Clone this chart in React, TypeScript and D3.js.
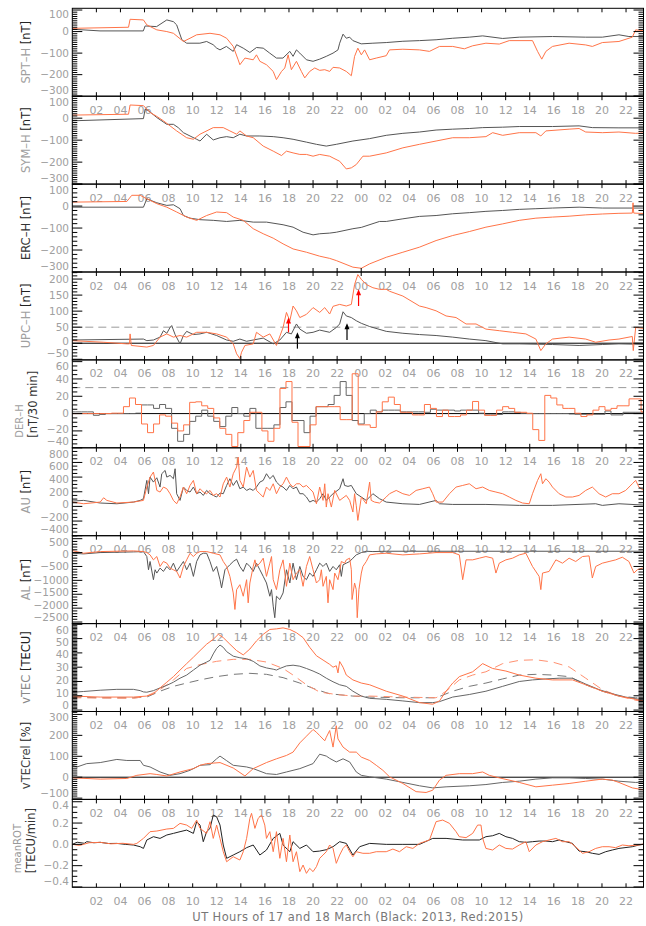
import React from "react";
import * as d3 from "d3";

type Pt = [number, number];

// hours of 17 and 18 March, labels every 2 h
const hourTicks = d3.range(2, 47, 2);
const hourLabel = (h: number) => String(h % 24).padStart(2, "0");

// ---------- SPT-H [nT] ----------
const sptH2013: Pt[] = [[0,11],[2.3,3],[5.9,3],[6.05,26],[7.0,23],[7.85,54],[8.4,46],[8.67,31],[9.1,-38],[9.5,-54],[10.6,-54],[11.16,-46],[11.7,-61],[12.0,-77],[12.27,-85],[12.8,-69],[13.37,-92],[13.65,-61],[14.2,-77],[14.75,-97],[15.3,-74],[15.86,-77],[16.4,-100],[16.96,-123],[17.5,-123],[18.07,-92],[18.34,-115],[18.62,-85],[18.9,-100],[19.45,-131],[20.0,-138],[20.55,-128],[21.1,-115],[21.66,-100],[22.07,-85],[22.21,-54],[22.49,-12],[22.76,-31],[23.04,-26],[23.31,-42],[24.0,-57],[24.97,-54],[26.08,-51],[27.46,-45],[28.84,-42],[30.22,-38],[31.6,-31],[32.98,-26],[34.09,-20],[35.75,-32],[37.13,-26],[39.89,-23],[42.65,-26],[44.03,-26],[45.41,-15],[46.24,-23],[48,-23]];
const sptH2015: Pt[] = [[0,15],[4.67,20],[4.8,57],[5.91,54],[6.19,31],[7.02,8],[7.85,0],[8.4,-8],[9.23,-46],[9.78,-31],[10.33,-15],[11.44,-8],[12.27,-15],[12.82,-31],[13.37,-69],[13.78,-131],[13.92,-154],[14.34,-123],[15.03,-131],[15.3,-108],[15.58,-138],[16.13,-154],[16.69,-185],[16.96,-223],[17.38,-185],[17.65,-169],[17.93,-108],[18.2,-177],[18.62,-138],[19.03,-185],[19.31,-215],[19.72,-185],[20.14,-169],[20.55,-180],[20.97,-177],[21.38,-185],[21.66,-166],[22.21,-169],[22.76,-185],[23.18,-205],[23.45,-115],[23.72,-77],[24.01,-108],[24.28,-85],[24.7,-131],[25.25,-123],[26.08,-112],[26.35,-85],[27.46,-82],[28.84,-85],[29.67,-92],[30.5,-69],[31.6,-69],[32.57,-80],[33.26,-66],[34.36,-54],[35.47,-58],[36.3,-42],[38.23,-42],[38.65,-92],[39.0,-128],[39.34,-92],[39.89,-69],[41.27,-54],[42.65,-62],[43.2,-69],[44.03,-51],[45.41,-46],[46.52,-26],[46.8,8],[48,0]];

// ---------- SYM-H [nT] ----------
const symH2013: Pt[] = [[0,-12],[5.91,-2],[6.05,41],[6.33,34],[7.02,3],[7.85,-28],[8.4,-28],[8.8,-43],[9.23,-66],[9.78,-81],[10.33,-96],[10.61,-104],[11.16,-73],[11.71,-99],[12.27,-89],[12.82,-84],[13.37,-89],[13.92,-73],[14.48,-81],[15.58,-81],[16.69,-84],[17.51,-89],[18.34,-96],[19.45,-109],[20.28,-119],[21.1,-127],[21.93,-119],[23.31,-104],[24.7,-93],[26.08,-78],[27.46,-69],[28.84,-63],[30.22,-54],[31.6,-50],[32.98,-47],[34.09,-43],[35.75,-41],[37.13,-38],[39.89,-38],[42.1,-35],[43.2,-43],[45.41,-44],[48,-44]];
const symH2015: Pt[] = [[0,14],[4.67,18],[4.8,60],[5.91,57],[6.46,26],[7.02,8],[7.57,-12],[8.12,-35],[8.67,-58],[9.5,-89],[10.06,-96],[10.61,-73],[11.71,-43],[12.54,-43],[13.09,-58],[13.65,-73],[13.92,-58],[14.48,-81],[15.03,-89],[15.86,-127],[16.69,-150],[17.38,-170],[17.79,-150],[18.34,-158],[18.9,-165],[19.45,-165],[20.0,-173],[20.55,-165],[21.38,-173],[21.66,-181],[22.21,-196],[22.76,-231],[23.18,-226],[23.59,-211],[24.14,-173],[24.7,-173],[26.08,-158],[27.46,-135],[28.84,-119],[30.22,-104],[31.6,-89],[32.98,-89],[34.36,-84],[34.92,-66],[35.75,-78],[37.13,-66],[38.51,-66],[38.92,-81],[39.34,-58],[41.27,-50],[42.1,-47],[42.65,-63],[44.03,-66],[45.41,-63],[46.8,-69],[48,-66]];

// ---------- ERC-H [nT] ----------
const ercH2013: Pt[] = [[0,-5],[5.91,-5],[6.19,33],[7.02,15],[7.85,3],[8.4,6],[8.95,-12],[9.23,-43],[9.78,-55],[10.61,-62],[11.71,-65],[12.82,-70],[13.92,-65],[15.03,-73],[16.13,-73],[17.51,-85],[18.34,-96],[19.17,-119],[20.0,-131],[20.55,-126],[21.38,-123],[21.93,-119],[23.31,-103],[24.01,-97],[25.52,-70],[26.08,-70],[27.46,-58],[28.84,-47],[30.22,-43],[31.6,-35],[32.98,-30],[34.36,-24],[35.75,-20],[37.13,-15],[38.51,-12],[39.89,-9],[42.1,-5],[44.03,-9],[48,-9]];
const ercH2015: Pt[] = [[0,18],[4.53,21],[4.94,49],[5.64,49],[6.19,33],[7.02,11],[7.85,-5],[8.67,-27],[9.5,-50],[10.33,-65],[11.16,-43],[11.99,-27],[12.82,-30],[13.37,-50],[14.2,-65],[15.03,-103],[15.86,-126],[16.69,-146],[17.51,-172],[18.34,-195],[19.45,-210],[20.55,-228],[21.38,-238],[21.93,-248],[23.31,-278],[24.01,-283],[24.7,-263],[26.08,-233],[27.46,-210],[28.84,-187],[30.22,-157],[31.6,-134],[32.98,-116],[34.36,-96],[35.75,-81],[37.13,-65],[38.51,-55],[39.89,-50],[41.27,-46],[42.65,-40],[44.03,-36],[45.41,-33],[46.52,-32],[46.58,15],[46.64,-32],[48,-35]];

// ---------- UPC-H [nT] ----------
const upcH2013: Pt[] = [[0,10],[5.91,13],[6.19,8],[6.74,10],[7.29,19],[7.57,39],[7.85,31],[8.12,49],[8.26,55],[8.54,27],[8.95,-2],[9.23,24],[9.5,37],[10.06,27],[10.61,29],[11.16,34],[11.99,24],[12.82,10],[13.37,6],[13.92,13],[14.48,6],[15.03,10],[15.86,16],[16.69,-2],[17.24,10],[17.79,34],[18.2,29],[18.62,60],[18.9,44],[19.45,31],[20.0,34],[20.55,41],[21.38,34],[21.93,49],[22.21,60],[22.49,98],[22.76,85],[23.18,80],[23.59,70],[24.01,62],[24.7,52],[26.08,37],[27.46,31],[28.84,27],[30.22,24],[31.6,19],[32.98,13],[34.36,8],[35.75,-2],[37.13,-2],[39.89,-4],[42.1,-7],[44.03,-4],[45.41,-2],[48,-4]];
const upcH2015: Pt[] = [[0,8],[2.6,3],[4.53,-2],[4.75,-2],[4.8,29],[4.9,-7],[6.19,-12],[6.74,-7],[7.29,19],[7.85,29],[8.4,19],[8.95,24],[9.5,19],[10.33,34],[11.16,34],[11.99,29],[12.82,19],[13.37,-2],[13.65,-33],[13.92,-48],[14.06,-28],[14.34,-7],[15.03,-2],[15.3,34],[15.86,19],[16.41,29],[16.96,-7],[17.51,49],[17.79,96],[18.07,70],[18.34,116],[18.62,101],[18.9,80],[19.45,90],[20.0,111],[20.55,96],[20.97,111],[21.38,91],[21.66,115],[22.21,121],[22.76,116],[23.18,121],[23.45,183],[23.72,214],[24.01,199],[24.42,183],[24.97,173],[25.52,168],[26.08,168],[26.35,162],[27.46,147],[28.84,116],[29.39,111],[30.22,101],[31.05,85],[31.88,80],[32.71,60],[33.54,60],[34.36,44],[35.47,39],[36.57,34],[37.68,29],[38.51,13],[38.92,-23],[39.34,-2],[39.89,13],[41.27,19],[42.65,13],[43.48,3],[44.59,10],[45.41,13],[46.52,21],[46.6,-23],[46.8,49],[48,44]];
// onset arrows: [hour, from] -> [hour, to]
const upcArrows2013: Pt[][] = [[[18.7, -17], [18.7, 34]], [[22.82, 10], [22.82, 62]]];
const upcArrows2015: Pt[][] = [[[17.96, 34], [17.96, 80]], [[23.78, 116], [23.78, 168]]];

// ---------- DER-H [nT/30 min], one value per half hour ----------
const derH2013: number[] = [
  2,2, 2,2, -2,-1, 0,0, 0,0, 0,0.5,
  10,10, 6,10.5, 6,-17, -32,-24, -9,-3, 4,-3,
  -9,-15, -3,7, 0,-3, 6,-17, -17,-17, -13,7,
  13.6,-8, -8,-22, -3,8, 8,10.5, 21,37, 21,-8,
  -12,0, 4,2, 4,4, 4,2, 2,2, 2,1.5,
  5,4, 4,4, 3,4, 4,4, 0.5,-1.5, -1.5,-1,
  2,2, 1.5,0.4, 0,0, 0,0, 0,0, 0,-0.4,
  -0.8,-0.8, -0.8,-0.8, -0.8,3, -1.5,-1.5, 1.5,1.5, 1.5,1.5,
];
const derH2015: number[] = [
  0,0, 0,0, 0,0, 0,0.5, 0.5,8, 18,10.5,
  -12,-22, -12,-1.5, -3,-11, -20,-13, 13,13.6, 9,6,
  -5,-17, -24,-38, -22,-8, 1.5,1.5, -20,-32, -17,29,
  37,-10, -38,-38, -13,8, 8,8, 8,-7, -7,46,
  -13,-13, -16,2, 13.6,19, 10.5,1.5, 1.5,-1.5, -1.5,10.5,
  6,-3.4, 4,-3.4, -3.4,-1.5, 4,14, 4,-2, -2,4,
  8,6, 1.5,1.5, 0.4,-18.5, -31,21, 18,10, 6,6,
  0.4,-3.4, -1.5,4, 8,4, 6,9, 9,17, 17,2,
];

// ---------- AU [nT] ----------
const au2013: Pt[] = [[0,73],[0.94,82],[2.32,46],[3.7,36],[5.08,59],[5.64,82],[5.91,105],[6.19,355],[6.33,173],[6.46,400],[6.74,332],[7.02,391],[7.29,264],[7.43,446],[7.71,491],[7.85,400],[8.12,423],[8.4,378],[8.54,514],[8.67,173],[8.95,82],[9.23,264],[9.5,218],[9.78,196],[10.06,264],[10.33,173],[10.61,196],[10.88,150],[11.16,218],[11.44,173],[11.71,150],[11.99,128],[12.27,182],[12.54,173],[12.82,286],[13.09,378],[13.37,286],[13.65,355],[13.92,241],[14.2,264],[14.48,218],[14.75,241],[15.03,218],[15.3,264],[15.58,332],[15.86,355],[16.13,446],[16.41,378],[16.69,423],[16.96,332],[17.24,286],[17.51,264],[17.79,218],[18.07,286],[18.34,241],[18.62,264],[18.9,173],[19.17,173],[19.45,128],[19.72,59],[20.0,82],[20.28,59],[20.55,105],[20.83,173],[21.1,82],[21.38,128],[21.66,173],[22.21,241],[22.49,378],[22.62,286],[22.9,273],[23.18,286],[23.59,173],[24.01,128],[24.42,82],[24.97,173],[25.52,105],[26.08,59],[27.46,36],[28.84,27],[30.22,82],[30.5,36],[31.6,27],[34.36,27],[37.13,14],[39.89,14],[43.48,36],[44.03,14],[45.41,36],[48,14]];
const au2015: Pt[] = [[0,59],[0.94,36],[2.32,59],[2.6,118],[2.87,82],[3.7,46],[5.08,59],[5.91,82],[6.19,264],[6.46,400],[6.74,469],[6.88,355],[7.02,218],[7.29,196],[7.57,264],[7.85,241],[8.12,173],[8.4,82],[8.67,36],[8.95,128],[9.23,264],[9.5,173],[9.78,286],[10.06,355],[10.33,173],[10.61,241],[10.88,196],[11.16,173],[11.44,218],[11.71,150],[11.99,173],[12.27,128],[12.54,309],[12.82,400],[13.09,264],[13.37,446],[13.65,537],[13.78,673],[13.92,355],[14.2,264],[14.48,537],[14.75,400],[15.03,491],[15.3,218],[15.58,173],[15.86,128],[16.13,264],[16.41,218],[16.69,309],[16.96,173],[17.24,264],[17.51,309],[17.79,400],[18.07,309],[18.34,264],[18.62,309],[18.9,309],[19.17,264],[19.45,286],[19.72,241],[20.0,196],[20.28,36],[20.55,264],[20.83,82],[20.97,309],[21.1,-9],[21.24,173],[21.52,-9],[21.8,218],[22.21,82],[22.76,150],[23.04,82],[23.31,-77],[23.45,173],[23.59,9],[23.72,-191],[24.01,128],[24.42,36],[24.7,332],[24.83,82],[25.11,59],[25.52,46],[26.08,128],[26.35,173],[26.91,218],[27.46,173],[28.01,150],[28.56,218],[29.12,241],[29.67,264],[29.94,173],[30.22,59],[30.77,59],[31.33,173],[31.88,264],[32.43,286],[32.98,309],[33.54,241],[34.09,264],[34.64,218],[35.19,196],[35.75,173],[36.3,128],[36.85,82],[37.4,46],[37.96,36],[38.23,173],[38.65,355],[38.92,446],[39.06,309],[39.34,378],[39.61,332],[39.89,264],[40.44,173],[41.0,128],[41.55,128],[42.1,150],[42.65,218],[43.2,264],[43.76,173],[44.31,128],[44.86,173],[45.41,173],[45.97,218],[46.52,309],[46.8,355],[47.07,264],[48,150]];

// ---------- AL [nT] ----------
const al2013: Pt[] = [[0,-24],[0.94,-48],[2.32,0],[5.08,24],[5.91,36],[6.19,-143],[6.33,-619],[6.46,-321],[6.74,-976],[6.88,-619],[7.02,-738],[7.29,-559],[7.57,-678],[7.85,-500],[8.12,-619],[8.4,-381],[8.67,-678],[8.95,-500],[9.23,-321],[9.5,-619],[9.78,-381],[10.06,-857],[10.33,-321],[10.61,-83],[10.88,-24],[11.16,-24],[11.44,-321],[11.71,-678],[11.99,-500],[12.27,-976],[12.4,-1273],[12.68,-619],[13.09,-440],[13.37,-321],[13.65,-238],[13.92,-500],[14.2,-678],[14.48,-381],[14.75,-500],[15.03,-678],[15.3,-381],[15.58,-619],[15.86,-857],[16.13,-1095],[16.41,-1571],[16.55,-1333],[16.69,-1928],[16.82,-2344],[16.96,-1571],[17.24,-1690],[17.51,-1452],[17.79,-619],[18.07,-1095],[18.34,-381],[18.62,-976],[18.9,-500],[19.17,-857],[19.45,-976],[19.72,-738],[20.0,-857],[20.28,-619],[20.55,-381],[20.83,-500],[21.1,-381],[21.38,-678],[21.66,-500],[21.93,-619],[22.21,-440],[22.35,-857],[22.49,-440],[22.76,-381],[23.04,-321],[23.31,-202],[23.59,-83],[24.01,0],[24.42,48],[24.97,36],[26.08,48],[48,48]];
const al2015: Pt[] = [[0,71],[0.94,-24],[2.32,36],[5.08,60],[5.91,36],[6.19,0],[6.46,-83],[6.74,-262],[7.02,-143],[7.29,-500],[7.57,-321],[7.85,-381],[8.12,-559],[8.4,-619],[8.67,-678],[8.95,-916],[9.23,-500],[9.5,-262],[9.78,-24],[10.06,-143],[10.33,-24],[10.61,36],[11.16,36],[11.71,-24],[12.27,-83],[12.54,-321],[12.82,-500],[13.09,-857],[13.37,-1452],[13.51,-2047],[13.65,-1333],[13.92,-1155],[14.2,-1571],[14.48,-976],[14.61,-1809],[14.75,-1095],[15.03,-500],[15.17,-262],[15.3,-500],[15.58,-381],[15.86,-202],[16.13,-857],[16.41,-381],[16.55,-143],[16.69,-976],[16.96,-1333],[17.24,-619],[17.51,-262],[17.79,-1214],[18.07,-381],[18.34,-976],[18.62,-738],[18.9,-619],[19.17,-1214],[19.45,-500],[19.72,-143],[20.0,-619],[20.28,-1095],[20.55,-976],[20.69,-619],[20.83,-1214],[21.1,-857],[21.24,-1809],[21.38,-976],[21.66,-1333],[21.8,-738],[22.07,-976],[22.35,-321],[22.62,-381],[22.76,-262],[23.04,-202],[23.18,-619],[23.24,-1690],[23.45,-1095],[23.59,-1333],[23.67,-2344],[23.81,-1333],[24.01,-738],[24.14,-500],[24.42,-321],[24.7,-83],[25.25,-48],[26.08,-24],[27.46,-83],[28.84,-48],[30.22,0],[31.6,0],[32.15,-83],[32.43,-976],[32.71,-262],[33.26,-262],[33.81,-202],[34.36,-143],[34.92,-202],[35.19,-738],[35.47,-381],[36.02,-262],[36.57,-202],[37.13,-83],[37.68,-24],[38.23,-500],[38.78,-857],[38.92,-1333],[39.06,-738],[39.61,-678],[40.17,-262],[40.72,-381],[41.27,-202],[41.82,-321],[42.38,-143],[42.93,-119],[43.2,-916],[43.48,-500],[44.03,-381],[44.59,-321],[45.14,-262],[45.69,-167],[46.24,-321],[46.66,-738],[46.93,-619],[47.35,-559],[48,-440]];

// ---------- vTEC [TECU] (solid: observed, dashed: median) ----------
const vtec2013: Pt[] = [[0,12.5],[0.94,13.0],[2.32,13.9],[3.7,14.5],[5.08,14.5],[5.64,13.6],[5.91,12.7],[6.19,12.5],[6.74,13.6],[7.29,15.5],[7.85,17.3],[8.4,19.5],[8.95,22.3],[9.5,24.5],[10.06,28],[10.61,31.4],[11.16,33.6],[11.44,34.8],[11.71,39.3],[11.99,43.2],[12.27,45.5],[12.54,43.9],[12.82,40.9],[13.37,37.7],[13.92,36.6],[14.48,35.9],[15.03,34.1],[15.58,30.9],[16.13,29.5],[16.69,28.6],[16.96,28],[17.24,29.1],[17.79,30.9],[18.34,31.4],[18.9,30.7],[19.45,29.1],[20.0,27.3],[20.55,25.2],[21.1,22.3],[21.66,19.8],[22.21,17.7],[22.76,16.6],[23.31,13.2],[24.01,9.8],[24.7,8.2],[26.08,7.5],[27.46,6.4],[28.84,5.2],[29.94,5.2],[30.5,5.9],[31.6,9.1],[32.98,10.9],[34.36,13.2],[35.75,16.6],[37.13,20],[38.23,21.1],[39.34,21.8],[40.44,22.3],[41.55,22.3],[42.65,18.2],[43.76,14.3],[44.86,11.4],[45.97,9.1],[47.07,7.5],[48,6.8]];
const vtecMed2013: Pt[] = [[0,9.1],[2.32,8.6],[5.08,8.6],[6.19,9.1],[7.29,13.2],[8.4,16.6],[9.5,18.9],[10.61,21.1],[11.99,23.4],[13.37,25],[14.75,25.7],[16.13,25],[17.51,22.7],[18.9,18.9],[20.28,14.3],[21.38,11.4],[23.31,9.8],[24.7,9.1],[27.46,8.6],[30.22,8.6],[31.6,13.2],[32.98,16.6],[34.36,18.9],[35.75,21.8],[37.13,24.5],[38.51,25],[39.89,24.5],[41.27,23.4],[42.65,17.7],[44.03,13.2],[45.41,9.8],[46.8,8.6],[48,8.2]];
const vtec2015: Pt[] = [[0,9.8],[2.32,9.1],[5.08,9.1],[6.19,9.8],[6.74,11.4],[7.29,15.5],[7.85,19.5],[8.4,23.4],[8.95,28],[9.5,32.5],[10.06,37],[10.61,41.6],[11.16,46.1],[11.71,49.5],[12.13,53],[12.54,50.7],[13.09,46.1],[13.65,41.6],[14.2,38.6],[14.75,42.7],[15.3,48.4],[15.86,53],[16.41,56.4],[16.96,56.8],[17.51,57.5],[18.07,56.4],[18.62,54.1],[19.17,50.7],[19.72,43.9],[20.28,38],[20.83,35],[21.38,32],[21.66,30],[21.93,31],[22.07,26],[22.21,34],[22.49,30],[22.76,24.5],[23.31,21.1],[24.01,18.9],[24.7,17.7],[26.08,13.2],[27.46,9.8],[28.84,5.2],[29.94,4.1],[30.5,6.4],[31.05,13.2],[31.6,18.9],[32.15,23.4],[33.26,26.8],[34.09,32.5],[34.92,29.1],[36.02,27.3],[37.13,24.5],[38.51,22.3],[39.89,21.1],[41.55,21.1],[42.65,17.7],[44.03,13.2],[45.41,9.8],[46.8,7.5],[48,5.2]];
const vtecMed2015: Pt[] = [[0,8.6],[5.08,8.2],[6.19,9.8],[7.29,14.3],[8.4,21.1],[9.5,29.1],[10.61,31.8],[11.99,34.1],[13.37,35.5],[14.75,35.5],[16.13,33.6],[17.51,29.1],[18.34,24.5],[19.45,17.7],[20.55,12.6],[21.93,10.9],[23.31,9.8],[24.7,9.8],[27.46,9.1],[30.22,8.6],[31.05,13.2],[32.15,21.1],[33.26,24.5],[34.36,26.8],[35.75,32.5],[37.13,34.8],[38.51,35.2],[39.89,33.6],[41.27,30.2],[42.65,22.3],[44.03,14.3],[45.41,9.8],[46.8,6.8],[48,6.4]];

// ---------- vTECrel [%] ----------
const vtecRel2013: Pt[] = [[0,57],[0.39,49],[1.2,65],[2.32,70],[3.7,85],[4.53,80],[5.64,80],[5.91,57],[6.46,49],[7.29,25],[8.12,9],[8.95,17],[9.78,33],[10.61,57],[11.44,60],[11.99,88],[12.27,101],[12.82,79],[13.37,57],[14.48,49],[15.03,41],[16.13,17],[16.96,13],[17.79,25],[18.9,41],[20.0,65],[20.55,110],[21.1,101],[21.38,90],[21.93,73],[22.49,88],[23.04,73],[23.59,25],[24.01,9],[24.7,2],[26.08,-9],[27.46,-25],[28.84,-41],[29.94,-51],[31.05,-46],[32.98,-41],[34.36,-35],[35.75,-25],[37.13,-19],[38.51,-9],[39.89,-3],[41.27,-3],[42.65,-6],[44.03,-9],[45.41,-19],[46.8,-25],[48,-22]];
const vtecRel2015: Pt[] = [[0,-3],[2.32,-9],[4.53,-6],[5.36,9],[6.46,17],[7.02,13],[7.85,6],[8.95,25],[10.06,41],[10.61,57],[11.16,65],[12.27,70],[13.37,44],[14.34,6],[15.03,41],[16.13,70],[16.96,88],[17.79,104],[18.34,120],[18.9,164],[19.45,196],[20.0,228],[20.28,215],[20.55,199],[20.97,174],[21.1,191],[21.38,223],[21.66,144],[21.93,246],[22.07,183],[22.49,144],[23.04,120],[23.59,120],[24.01,96],[24.7,80],[25.25,57],[25.8,33],[26.35,2],[27.46,-30],[28.56,-69],[29.39,-73],[29.94,-62],[30.5,-14],[31.05,9],[32.15,17],[33.26,17],[34.09,25],[34.64,9],[35.47,-3],[37.13,-25],[38.51,-46],[39.89,-38],[41.27,-30],[42.65,-19],[44.03,-9],[44.86,-14],[45.41,-25],[46.52,-51],[48,-66]];

// ---------- meanROT [TECU/min] ----------
const rot2013: Pt[] = [[0,0],[0.4,0.02],[1.0,0.01],[1.2,0.025],[1.8,0.015],[2.32,0.019],[3.0,0.008],[3.7,0.009],[4.4,0.0],[5.08,-0.006],[5.64,-0.022],[5.91,-0.038],[6.19,0.041],[6.74,0.072],[7.29,0.056],[7.85,0.088],[8.4,0.103],[8.95,0.119],[9.5,0.134],[10.06,0.103],[10.33,0.213],[10.61,0.181],[10.88,0.025],[11.16,0.119],[11.44,0.15],[11.71,0.275],[11.99,0.259],[12.27,0.181],[12.54,-0.006],[12.82,-0.131],[13.37,-0.1],[13.92,-0.069],[14.48,-0.031],[15.03,-0.006],[15.58,-0.1],[16.13,-0.053],[16.69,0.056],[17.24,0.103],[17.51,-0.006],[18.07,-0.069],[18.34,0.025],[18.9,-0.038],[19.45,-0.006],[20.0,-0.069],[20.55,-0.063],[21.1,-0.05],[21.66,-0.022],[22.21,0.025],[22.76,0.009],[23.31,-0.1],[23.87,-0.022],[24.7,0.009],[26.08,0],[27.46,0],[28.84,0],[29.94,0.056],[31.05,0.056],[32.43,0.041],[33.81,0.041],[34.36,0.072],[34.92,0.081],[35.47,0.103],[36.02,0.072],[36.57,0.056],[37.13,0.025],[37.68,0.019],[38.23,0.025],[38.78,0.031],[39.34,0.031],[39.89,0.025],[40.44,0.041],[41.0,0.025],[41.55,0.009],[42.1,-0.063],[42.65,-0.069],[43.2,-0.084],[43.76,-0.094],[44.31,-0.069],[44.86,-0.053],[45.41,-0.038],[46.52,-0.022],[47.07,-0.006],[48,0.009]];
const rot2015: Pt[] = [[0,0],[0.6,-0.01],[1.4,0.015],[2.32,0.019],[3.2,0.005],[4.2,0.01],[5.08,0],[5.36,0.009],[5.91,0.056],[6.46,0.119],[7.02,0.125],[7.85,0.144],[8.4,0.15],[8.95,0.197],[9.5,0.181],[9.92,0.15],[10.33,0.228],[10.61,0.15],[11.16,0.103],[11.44,0.213],[11.71,0.056],[11.99,0.181],[12.27,0.056],[12.54,-0.069],[12.82,-0.163],[13.37,-0.116],[13.92,-0.147],[14.2,-0.069],[14.48,0.056],[14.75,0.244],[14.89,0.291],[15.17,0.15],[15.44,0.244],[15.72,0.275],[15.99,0.181],[16.13,0.056],[16.41,0.119],[16.69,-0.069],[16.96,0.119],[17.24,-0.131],[17.51,0.056],[17.79,-0.163],[18.07,0.088],[18.34,-0.163],[18.62,-0.069],[18.9,-0.256],[19.17,-0.194],[19.45,-0.272],[19.72,-0.225],[20.0,-0.256],[20.28,-0.209],[20.55,-0.131],[20.83,-0.1],[21.1,-0.069],[21.38,-0.006],[21.66,-0.038],[21.93,-0.178],[22.21,-0.1],[22.49,-0.038],[22.76,-0.006],[23.04,-0.069],[23.31,-0.116],[23.59,-0.069],[24.14,-0.084],[24.7,-0.084],[25.25,-0.069],[26.08,-0.069],[26.63,-0.044],[27.18,-0.069],[27.74,-0.022],[28.29,-0.038],[28.84,0.009],[29.67,0.041],[30.22,0.213],[30.77,0.228],[31.33,0.197],[31.88,0.119],[32.15,0.072],[32.71,0.063],[33.26,0.103],[33.67,0.181],[33.95,0.181],[34.09,0.056],[34.36,-0.038],[34.92,-0.053],[35.47,-0.006],[36.02,-0.038],[36.57,-0.044],[37.13,-0.006],[37.68,0.025],[37.96,-0.069],[38.51,-0.006],[39.06,0.025],[39.61,0.041],[40.17,0.056],[40.72,0.025],[41.27,0.025],[41.82,-0.022],[42.38,-0.084],[42.93,-0.069],[43.48,-0.038],[44.03,-0.022],[44.59,-0.022],[45.14,-0.031],[45.69,-0.006],[46.24,-0.013],[47.07,-0.006],[48,0.019]];

// ---------- layout ----------
const X0 = 72.3, X1 = 643.5;
const TOP = 8.3, PH = 87.9;
const BLACK = "#555";
const RED = "#ff7448";
const GRAY = "#a0a0a0";
const FONT = "DejaVu Sans, sans-serif";
const LABEL_GAP = 12.4;
const EDGE = 6.2;

const x = d3.scaleLinear().domain([0, 47.45]).range([X0, X1]);
const halfHours = (v: number[]): Pt[] => v.map((d, i) => [i * 0.5, d]);

type Series = { data: Pt[]; color: string; dash?: string; step?: boolean };
type Title = { text: string; color: string; size: number; x: number }[];
type Panel = {
  name: string; nameColor: string; unit: string; domain: [number, number];
  major: number; minor: number; digits: number; series: Series[];
  zero?: boolean; dashed?: number; stacked?: Title;
};

const panels: Panel[] = [
  { name: "SPT–H", nameColor: "#a0a0a0", unit: "[nT]", domain: [-300, 108], major: 100, minor: 10, digits: 0,
    series: [{ data: sptH2013, color: BLACK }, { data: sptH2015, color: RED }] },
  { name: "SYM–H", nameColor: "#a0a0a0", unit: "[nT]", domain: [-300, 100], major: 100, minor: 10, digits: 0,
    series: [{ data: symH2013, color: BLACK }, { data: symH2015, color: RED }] },
  { name: "ERC–H", nameColor: "#333", unit: "[nT]", domain: [-300, 100], major: 100, minor: 20, digits: 0,
    series: [{ data: ercH2013, color: BLACK }, { data: ercH2015, color: RED }] },
  { name: "UPC–H", nameColor: "#a0a0a0", unit: "[nT]", domain: [-52, 222], major: 50, minor: 10, digits: 0,
    zero: true, dashed: 50,
    series: [{ data: upcH2013, color: BLACK }, { data: upcH2015, color: RED }] },
  { name: "", nameColor: "", unit: "", domain: [-39.5, 62], major: 20, minor: 5, digits: 0,
    zero: true, dashed: 30,
    stacked: [{ text: "DER–H", color: "#a0a0a0", size: 10, x: 23 }, { text: "[nT/30 min]", color: "#333", size: 11.5, x: 37 }],
    series: [{ data: halfHours(derH2013), color: "#666", step: true }, { data: halfHours(derH2015), color: RED, step: true }] },
  { name: "AU", nameColor: "#a0a0a0", unit: "[nT]", domain: [-400, 800], major: 200, minor: 50, digits: 0,
    series: [{ data: au2013, color: BLACK }, { data: au2015, color: RED }] },
  { name: "AL", nameColor: "#a0a0a0", unit: "[nT]", domain: [-2556, 607], major: 500, minor: 100, digits: 0,
    series: [{ data: al2013, color: BLACK }, { data: al2015, color: RED }] },
  { name: "vTEC", nameColor: "#888", unit: "[TECU]", domain: [-1, 60.5], major: 10, minor: 1, digits: 0,
    series: [
      { data: vtecMed2013, color: "#777", dash: "9,6" }, { data: vtecMed2015, color: "#ff9070", dash: "9,6" },
      { data: vtec2013, color: "#666" }, { data: vtec2015, color: RED }] },
  { name: "vTECrel", nameColor: "#444", unit: "[%]", domain: [-106, 314], major: 100, minor: 10, digits: 0,
    zero: true,
    series: [{ data: vtecRel2013, color: "#666" }, { data: vtecRel2015, color: RED }] },
  { name: "", nameColor: "", unit: "", domain: [-0.403, 0.422], major: 0.2, minor: 0.05, digits: 1,
    stacked: [{ text: "meanROT", color: "#999", size: 10, x: 21 }, { text: "[TECU/min]", color: "#333", size: 11.5, x: 35 }],
    series: [{ data: rot2013, color: "#222" }, { data: rot2015, color: RED }] },
];

function yTicks(p: Panel) {
  const out: { v: number; major: boolean }[] = [];
  const n0 = Math.ceil(p.domain[0] / p.minor - 1e-6);
  const n1 = Math.floor(p.domain[1] / p.minor + 1e-6);
  for (let n = n0; n <= n1; n++) {
    const v = n * p.minor;
    const r = v / p.major;
    out.push({ v, major: Math.abs(r - Math.round(r)) < 1e-6 });
  }
  return out;
}

// label positions: kept inside the panel and apart from each other
function labelPositions(vals: number[], y: d3.ScaleLinear<number, number>, top: number, bottom: number) {
  const pos = vals.map((v) => ({ v, y: y(v) })).sort((a, b) => a.y - b.y);
  const lo = top + EDGE, hi = bottom - EDGE;
  pos.forEach((d) => { d.y = Math.min(Math.max(d.y, lo), hi); });
  for (let k = 1; k < pos.length; k++) pos[k].y = Math.max(pos[k].y, pos[k - 1].y + LABEL_GAP);
  pos[pos.length - 1].y = Math.min(pos[pos.length - 1].y, hi);
  for (let k = pos.length - 2; k >= 0; k--) pos[k].y = Math.min(pos[k].y, pos[k + 1].y - LABEL_GAP);
  return pos;
}

function PanelView({ p, i }: { p: Panel; i: number }) {
  const top = TOP + i * PH;
  const bottom = top + PH;
  const y = d3.scaleLinear().domain(p.domain).range([bottom, top]);
  const ticks = yTicks(p);
  const fmt = d3.format(p.digits ? ".1f" : "d");
  const clipId = `clip-${i}`;
  const span = p.domain[1] - p.domain[0];
  const majors = d3.range(Math.ceil(p.domain[0] / p.major - 0.03 * span / p.major), Math.floor(p.domain[1] / p.major + 1e-6) + 1)
    .map((n) => n * p.major);
  const labels = labelPositions(majors, y, top, bottom);
  const mid = (top + bottom) / 2;

  return (
    <g>
      <defs>
        <clipPath id={clipId}>
          <rect x={X0} y={top} width={X1 - X0} height={PH} />
        </clipPath>
      </defs>
      <g clipPath={`url(#${clipId})`}>
        {p.dashed !== undefined && (
          <line x1={X0} x2={X1} y1={y(p.dashed)} y2={y(p.dashed)} stroke="#999" strokeDasharray="8,5" />
        )}
        {p.zero && <line x1={X0} x2={X1} y1={y(0)} y2={y(0)} stroke="#000" />}
        {p.series.map((s, k) => {
          const line = d3.line<Pt>().x((d) => x(d[0])).y((d) => y(d[1]));
          if (s.step) line.curve(d3.curveStep);
          return (
            <path key={k} d={line(s.data) ?? ""} fill="none" stroke={s.color} strokeWidth={1}
              strokeDasharray={s.dash} strokeLinejoin="round" />
          );
        })}
      </g>
      {i === 3 && [
        ...upcArrows2013.map((a) => [a, "#000"] as [Pt[], string]),
        ...upcArrows2015.map((a) => [a, "#ff0000"] as [Pt[], string]),
      ].map(([a, c], k) => {
        const ax = x(a[0][0]);
        const y0 = y(a[0][1]);
        const y1 = y(a[1][1]);
        return (
          <g key={k}>
            <line x1={ax} x2={ax} y1={y0} y2={y1 + 4} stroke={c} strokeWidth={1.2} />
            <path d={`M${ax},${y1}L${ax - 2.5},${y1 + 6}L${ax + 2.5},${y1 + 6}Z`} fill={c} />
          </g>
        );
      })}
      <rect x={X0} y={top} width={X1 - X0} height={PH} fill="none" stroke="#000" strokeWidth={1} />
      {hourTicks.map((h) => (
        <g key={h} stroke="#000">
          <line x1={x(h)} x2={x(h)} y1={bottom} y2={bottom - 4} />
          <line x1={x(h)} x2={x(h)} y1={top} y2={top + 4} />
        </g>
      ))}
      {ticks.map((t, k) => {
        const ty = y(t.v);
        const len = t.major ? 10 : 5;
        return (
          <g key={k} stroke="#000">
            <line x1={X0} x2={X0 + len} y1={ty} y2={ty} />
            <line x1={X1} x2={X1 - len} y1={ty} y2={ty} />
          </g>
        );
      })}
      {labels.map((l) => (
        <text key={l.v} x={69} y={l.y} dy="0.36em" textAnchor="end" fontSize={10.5} fill={GRAY}>
          {fmt(Math.abs(l.v) < 1e-9 ? 0 : l.v).replace("-", "−")}
        </text>
      ))}
      {hourTicks.map((h) => (
        <text key={`l${h}`} x={x(h)} y={bottom + 17.5} textAnchor="middle" fontSize={11} fill={GRAY}>
          {hourLabel(h)}
        </text>
      ))}
      {p.stacked
        ? p.stacked.map((l, k) => (
            <text key={k} transform={`translate(${l.x},${bottom - (i === 4 ? 10 : 14)}) rotate(-90)`}
              fontSize={l.size} fill={l.color} textAnchor="start">{l.text}</text>
          ))
        : (
          <text transform={`translate(30,${mid}) rotate(-90)`} textAnchor="middle" fontSize={11.5}>
            <tspan fill={p.nameColor}>{p.name} </tspan>
            <tspan fill="#222">{p.unit}</tspan>
          </text>
        )}
    </g>
  );
}

export default function App() {
  return (
    <svg width={646} height={926} fontFamily={FONT}
      style={{ position: "absolute", left: 0, top: 0, background: "#fff" }}>
      <rect width={646} height={926} fill="#fff" />
      {panels.map((p, i) => <PanelView key={i} p={p} i={i} />)}
      <text x={358} y={921} textAnchor="middle" fontSize={11.5} letterSpacing={0.4} fill="#777">
        UT Hours of 17 and 18 March (Black: 2013, Red:2015)
      </text>
    </svg>
  );
}
